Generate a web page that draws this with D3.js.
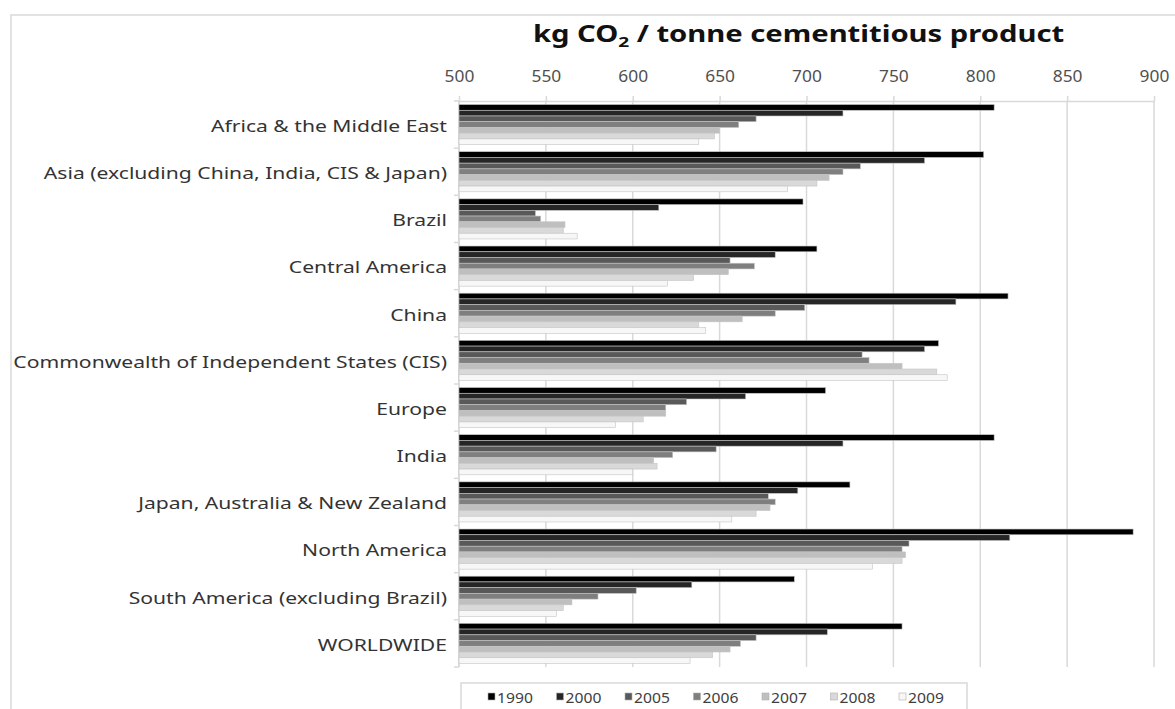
<!DOCTYPE html>
<html>
<head>
<meta charset="utf-8">
<script src="https://cdn.jsdelivr.net/npm/d3@7"></script>
<style>
  html, body { margin: 0; padding: 0; background: #fff; }
  svg { display: block; }
</style>
</head>
<body>
<svg id="chart"></svg>
<script>
// categories (top to bottom)
const categories = [
  "Africa & the Middle East",
  "Asia (excluding China, India, CIS & Japan)",
  "Brazil",
  "Central America",
  "China",
  "Commonwealth of Independent States (CIS)",
  "Europe",
  "India",
  "Japan, Australia & New Zealand",
  "North America",
  "South America (excluding Brazil)",
  "WORLDWIDE"
];

const years = ["1990", "2000", "2005", "2006", "2007", "2008", "2009"];

// kg CO2 per tonne
const v1990 = [808, 802, 698, 706, 816, 776, 711, 808, 725, 888, 693, 755];
const v2000 = [721, 768, 615, 682, 786, 768, 665, 721, 695, 817, 634, 712];
const v2005 = [671, 731, 544, 656, 699, 732, 631, 648, 678, 759, 602, 671];
const v2006 = [661, 721, 547, 670, 682, 736, 619, 623, 682, 755, 580, 662];
const v2007 = [650, 713, 561, 655, 663, 755, 619, 612, 679, 757, 565, 656];
const v2008 = [647, 706, 560, 635, 638, 775, 606, 614, 671, 755, 560, 646];
const v2009 = [638, 689, 568, 620, 642, 781, 590, 600, 657, 738, 556, 633];

const xTicks = [500, 550, 600, 650, 700, 750, 800, 850, 900];

const seriesValues = [v1990, v2000, v2005, v2006, v2007, v2008, v2009];
const seriesColors = ['#000000', '#262626', '#595959', '#7f7f7f', '#bfbfbf', '#d9d9d9', '#f7f7f7'];

const width = 1175, height = 709;
const plot = {left: 459, right: 1154, top: 101, bottom: 667};
const font = "'Noto Sans', 'Open Sans', sans-serif";
// the source picture is stretched sideways
const labelStretch = 1.32;
const titleStretch = 1.27;
const tickStretch = 1.12;

const svg = d3.select('#chart')
  .attr('width', width)
  .attr('height', height);

// outer frame
svg.append('rect')
  .attr('x', 11).attr('y', 15)
  .attr('width', width + 20).attr('height', height)
  .attr('fill', 'none')
  .attr('stroke', '#d9d9d9')
  .attr('stroke-width', 1.5);

const xScale = d3.scaleLinear()
  .domain([500, 900])
  .range([plot.left, plot.right]);

const yScale = d3.scaleBand()
  .domain(categories)
  .range([plot.top, plot.bottom])
  .paddingInner(0.15)
  .paddingOuter(0.075);

const yInner = d3.scaleBand()
  .domain(years)
  .range([0, yScale.bandwidth()]);

// gridlines
svg.append('g')
  .selectAll('line')
  .data(xTicks)
  .join('line')
  .attr('x1', d => xScale(d)).attr('x2', d => xScale(d))
  .attr('y1', plot.top).attr('y2', plot.bottom)
  .attr('stroke', '#d9d9d9')
  .attr('stroke-width', 1.5);

// top axis
const xAxis = svg.append('g')
  .attr('transform', `translate(0, ${plot.top})`)
  .call(d3.axisTop(xScale).tickValues(xTicks).tickSize(5).tickPadding(14).tickSizeOuter(0));
xAxis.select('.domain').attr('stroke', '#d9d9d9').attr('stroke-width', 1.5);
xAxis.selectAll('.tick line').attr('stroke', '#d9d9d9').attr('stroke-width', 1.5);
xAxis.selectAll('.tick text')
  .attr('fill', '#505050')
  .style('font-family', font)
  .style('font-size', '15.5px')
  .attr('transform', `scale(${tickStretch},1)`)
  .attr('x', 0);

// left axis: line plus ticks between categories
const bounds = d3.range(categories.length + 1).map(i => plot.top + i * yScale.step());
svg.append('line')
  .attr('x1', plot.left).attr('x2', plot.left)
  .attr('y1', plot.top).attr('y2', plot.bottom)
  .attr('stroke', '#d9d9d9').attr('stroke-width', 1.5);
svg.append('g')
  .selectAll('line')
  .data(bounds)
  .join('line')
  .attr('x1', plot.left - 5).attr('x2', plot.left)
  .attr('y1', d => d).attr('y2', d => d)
  .attr('stroke', '#d9d9d9').attr('stroke-width', 1.5);

// category labels
svg.append('g')
  .selectAll('text')
  .data(categories)
  .join('text')
  .attr('transform', d => `translate(447, ${yScale(d) + yScale.bandwidth() / 2 + 1}) scale(${labelStretch},1)`)
  .attr('text-anchor', 'end')
  .attr('dominant-baseline', 'central')
  .attr('fill', '#333')
  .style('font-family', font)
  .style('font-size', '16px')
  .text(d => d);

// bars
const rows = [];
categories.forEach((c, i) => {
  years.forEach((y, j) => {
    rows.push({cat: c, year: y, value: seriesValues[j][i], color: seriesColors[j]});
  });
});

svg.append('g')
  .selectAll('rect')
  .data(rows)
  .join('rect')
  .attr('x', xScale(500))
  .attr('y', d => yScale(d.cat) + yInner(d.year))
  .attr('width', d => xScale(d.value) - xScale(500))
  .attr('height', yInner.bandwidth())
  .attr('fill', d => d.color)
  .attr('stroke', '#c4c4c4')
  .attr('stroke-width', 0.6);

// title
const title = svg.append('text')
  .attr('transform', `translate(${(plot.left + plot.right) / 2 - 8}, 42) scale(${titleStretch},1)`)
  .attr('text-anchor', 'middle')
  .attr('fill', '#111')
  .style('font-family', font)
  .style('font-size', '23px')
  .style('font-weight', 'bold');
title.append('tspan').text('kg CO');
title.append('tspan').attr('dy', 5).style('font-size', '15px').text('2');
title.append('tspan').attr('dy', -5).text(' / tonne cementitious product');

// legend
const legend = svg.append('g');
legend.append('rect')
  .attr('x', 461).attr('y', 683)
  .attr('width', 506).attr('height', 60)
  .attr('fill', '#fff')
  .attr('stroke', '#d9d9d9')
  .attr('stroke-width', 1.5);

const items = legend.selectAll('g.item')
  .data(years)
  .join('g')
  .attr('class', 'item')
  .attr('transform', (d, i) => `translate(${488 + i * 68.5}, 697)`);
items.append('rect')
  .attr('x', 0).attr('y', -4)
  .attr('width', 7).attr('height', 7)
  .attr('fill', (d, i) => seriesColors[i])
  .attr('stroke', '#b0b0b0')
  .attr('stroke-width', 0.6);
items.append('text')
  .attr('transform', `translate(9, 0) scale(${tickStretch},1)`)
  .attr('dominant-baseline', 'central')
  .attr('fill', '#404040')
  .style('font-family', font)
  .style('font-size', '14px')
  .text(d => d);
</script>
</body>
</html>
